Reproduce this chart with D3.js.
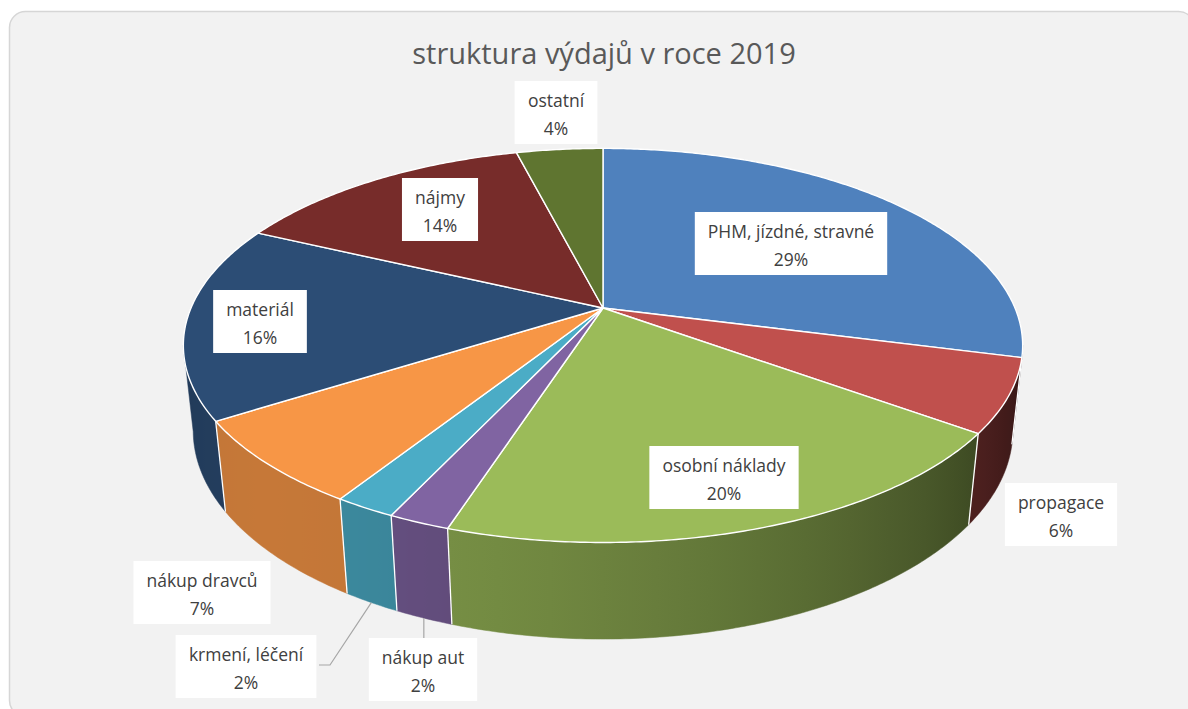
<!DOCTYPE html>
<html>
<head>
<meta charset="utf-8">
<script src="https://cdn.jsdelivr.net/npm/d3@7"></script>
<style>
  body { margin: 0; background: #ffffff; }
  svg { display: block; }
</style>
</head>
<body>
<div id="chart"></div>
<script>
const title = "struktura výdajů v roce 2019";
const categories = ["PHM, jízdné, stravné", "propagace", "osobní náklady", "nákup aut",
    "krmení, léčení", "nákup dravců", "materiál", "nájmy", "ostatní"];
const values = [29, 6, 20, 2, 2, 7, 16, 14, 4];
const colors = ["#4f81bd", "#c0504d", "#9bbb59", "#8064a2", "#4bacc6", "#f79646", "#2c4d75", "#772c2a", "#5f7530"];

// label box centres (layout only)
const labelPos = [[791, 243], [1061, 514], [724, 477], [423, 669], [246, 666], [202, 592], [260, 321], [440, 209], [556, 112]];

const W = 1188, H = 709;
const svg = d3.select("#chart").append("svg").attr("width", W).attr("height", H);
const defs = svg.append("defs");

// card background
svg.append("rect")
    .attr("x", 9.5).attr("y", 11.5).attr("width", 1185).attr("height", 705)
    .attr("rx", 16)
    .attr("fill", "#f2f2f2").attr("stroke", "#d6d6d6").attr("stroke-width", 1.5);

svg.append("text")
    .attr("x", 604).attr("y", 64)
    .attr("text-anchor", "middle")
    .attr("font-family", "'Open Sans', sans-serif")
    .attr("font-size", 29)
    .attr("fill", "#595959")
    .text(title);

// simple perspective projection of a pie lying on a plane
const cx = 603, cy = 308, A = 412, D = 4.67, thick = 0.235;
const sinP = 0.461, cosP = Math.sqrt(1 - sinP * sinP);
function proj(theta, r, yl) {
    const x3 = r * Math.sin(theta), z3 = -r * Math.cos(theta);
    const u = yl * cosP - z3 * sinP;
    const w = yl * sinP + z3 * cosP;
    const s = 1 / (1 - w / D);
    return [cx + A * x3 * s, cy - A * u * s];
}

const color = d3.scaleOrdinal().domain(categories).range(colors);
const pie = d3.pie().sort(null).value(d => d.value);
const arcs = pie(categories.map((c, i) => ({ name: c, value: values[i] })));
const line = d3.line();

function arcPts(a0, a1, yl) {
    const n = Math.max(2, Math.ceil((a1 - a0) / 0.01));
    return d3.range(n + 1).map(i => proj(a0 + (a1 - a0) * i / n, 1, yl));
}

function shade(c, theta) {
    const f = 0.45 + 0.35 * Math.cos(theta - 225 * Math.PI / 180);
    const col = d3.rgb(c);
    return d3.rgb(col.r * f, col.g * f, col.b * f).formatHex();
}

// silhouette angles: where the rim is furthest right / left on screen
const grid = d3.range(0, 2 * Math.PI, 0.001);
const lo = grid.filter(t => t < Math.PI)[d3.maxIndex(grid.filter(t => t < Math.PI), t => proj(t, 1, 0)[0])];
const hiSet = grid.filter(t => t >= Math.PI);
const hi = hiSet[d3.minIndex(hiSet, t => proj(t, 1, 0)[0])];

// side walls: one path per slice, shaded with a horizontal gradient
const walls = arcs.map((a, i) => {
    const s0 = Math.max(a.startAngle, lo), s1 = Math.min(a.endAngle, hi);
    return { a, i, s0, s1 };
}).filter(d => d.s1 > d.s0);

walls.forEach(d => {
    const n = 12;
    const ts = d3.range(n + 1).map(k => d.s0 + (d.s1 - d.s0) * k / n);
    const xs = ts.map(t => proj(t, 1, 0)[0]);
    const x0 = d3.min(xs), x1 = d3.max(xs);
    const g = defs.append("linearGradient")
        .attr("id", "wall" + d.i)
        .attr("gradientUnits", "userSpaceOnUse")
        .attr("x1", x0).attr("x2", x1 + 0.01).attr("y1", 0).attr("y2", 0);
    const stops = ts.map((t, k) => ({ off: (xs[k] - x0) / Math.max(1e-6, x1 - x0), c: shade(color(d.a.data.name), t) }))
        .sort((p, q) => p.off - q.off);
    g.selectAll("stop").data(stops).enter().append("stop")
        .attr("offset", s => s.off).attr("stop-color", s => s.c);
});

const wallG = svg.append("g");
wallG.selectAll("path").data(walls).enter().append("path")
    .attr("d", d => line(arcPts(d.s0, d.s1, 0).concat(arcPts(d.s0, d.s1, -thick).reverse())) + "Z")
    .attr("fill", d => `url(#wall${d.i})`)
    .attr("stroke", d => `url(#wall${d.i})`).attr("stroke-width", 0.5);

// white separators on the walls
const seps = arcs.map(a => a.startAngle).filter(t => t > lo && t < hi);
wallG.selectAll("path.sep").data(seps).enter().append("path")
    .attr("class", "sep")
    .attr("d", t => line([proj(t, 1, 0), proj(t, 1, -thick)]))
    .attr("stroke", "#ffffff").attr("stroke-width", 1.3).attr("fill", "none");

// top faces
svg.append("g").selectAll("path").data(arcs).enter().append("path")
    .attr("d", a => line([[cx, cy]].concat(arcPts(a.startAngle, a.endAngle, 0))) + "Z")
    .attr("fill", a => color(a.data.name))
    .attr("stroke", "#ffffff").attr("stroke-width", 1.4).attr("stroke-linejoin", "round");

// leader lines for the two small slices
const leaders = [
    { i: 4, pts: a => { const p = proj((a.startAngle + a.endAngle) / 2, 1, -thick); return [[319, 665], [330, 665], p]; } },
    { i: 3, pts: a => { const p = proj((a.startAngle + a.endAngle) / 2, 1, -thick); return [[p[0], 638], p]; } }
];
svg.append("g").selectAll("path").data(leaders).enter().append("path")
    .attr("d", d => line(d.pts(arcs[d.i])))
    .attr("fill", "none").attr("stroke", "#a6a6a6").attr("stroke-width", 1.2);

// data labels
const total = d3.sum(values);
const lab = svg.append("g").selectAll("g").data(arcs).enter().append("g")
    .attr("transform", (a, i) => `translate(${labelPos[i][0]},${labelPos[i][1]})`);
const box = lab.append("rect").attr("fill", "#ffffff");
const txt = lab.append("text")
    .attr("text-anchor", "middle")
    .attr("font-family", "'Open Sans', sans-serif")
    .attr("font-size", 17.5)
    .attr("fill", "#404040");
txt.append("tspan").attr("x", 0).attr("y", -5).text(a => a.data.name);
txt.append("tspan").attr("x", 0).attr("y", 23).text(a => Math.round(a.data.value / total * 100) + "%");
box.each(function () {
    const t = d3.select(this.parentNode).select("text").node();
    const w = t.getBBox().width;
    d3.select(this).attr("x", -w / 2 - 13).attr("y", -31).attr("width", w + 26).attr("height", 63);
});
</script>
</body>
</html>
